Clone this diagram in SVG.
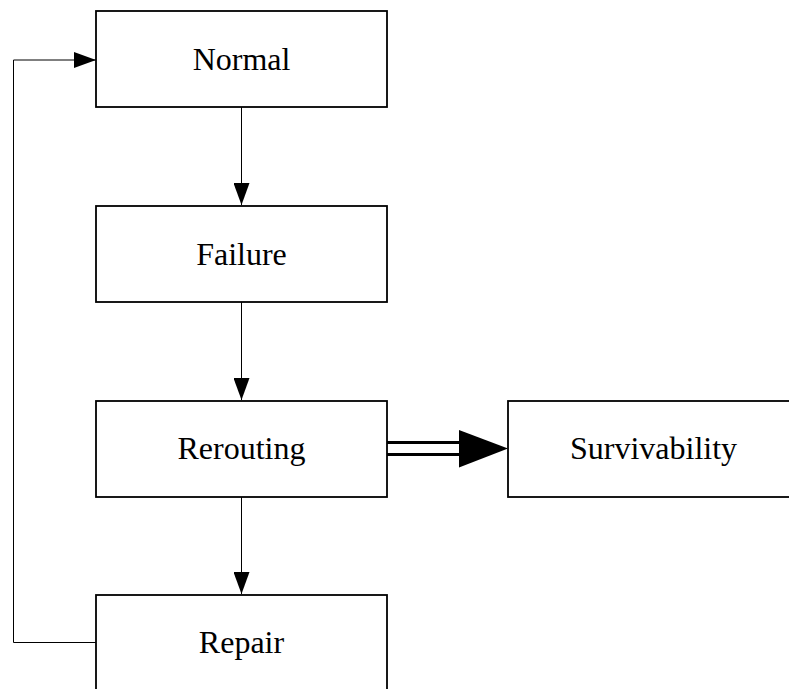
<svg xmlns="http://www.w3.org/2000/svg" width="789" height="689" viewBox="0 0 789 689">
<defs>
<style>
.box{fill:#fff;stroke:#000;stroke-width:1.8}
.lbl{font-family:"Liberation Serif","Times New Roman",serif;font-size:32px;fill:#000;text-anchor:middle}
.ln{fill:none;stroke:#000;stroke-width:1}
.thick{fill:none;stroke:#000;stroke-width:3}
</style>
<marker id="ah" markerWidth="22" markerHeight="16" refX="22" refY="8" orient="auto" markerUnits="userSpaceOnUse">
<path d="M0,0 L22,8 L0,16 Z" fill="#000"/>
</marker>
</defs>
<rect width="789" height="689" fill="#fff"/>
<g id="connectors">
<line class="ln" x1="241.5" y1="107" x2="241.5" y2="205" marker-end="url(#ah)"/>
<line class="ln" x1="241.5" y1="302" x2="241.5" y2="400" marker-end="url(#ah)"/>
<line class="ln" x1="241.5" y1="497" x2="241.5" y2="594" marker-end="url(#ah)"/>
<polyline class="ln" points="96,642.5 13.5,642.5 13.5,60 96,60" marker-end="url(#ah)"/>
<line class="thick" x1="387" y1="442.5" x2="462" y2="442.5"/>
<line class="thick" x1="387" y1="454.5" x2="462" y2="454.5"/>
<path d="M459,430 L508,448.5 L459,467.5 Z" fill="#000"/>
</g>
<g id="normal"><rect class="box" x="96" y="11" width="291" height="96"/><text class="lbl" x="241.5" y="70">Normal</text></g>
<g id="failure"><rect class="box" x="96" y="206" width="291" height="96"/><text class="lbl" x="241.5" y="265">Failure</text></g>
<g id="rerouting"><rect class="box" x="96" y="401" width="291" height="96"/><text class="lbl" x="241.5" y="459">Rerouting</text></g>
<g id="survivability"><rect class="box" x="508" y="401" width="300" height="96"/><text class="lbl" x="653.5" y="459">Survivability</text></g>
<g id="repair"><rect class="box" x="96" y="595" width="291" height="110"/><text class="lbl" x="241.5" y="653">Repair</text></g>
</svg>
